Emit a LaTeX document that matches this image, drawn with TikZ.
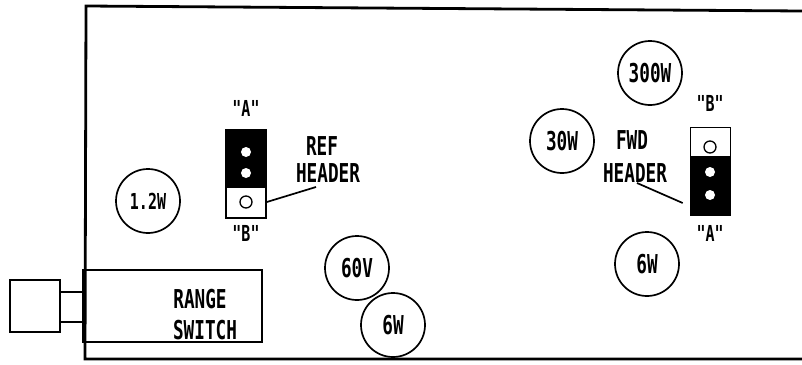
\documentclass[tikz,border=0pt]{standalone}
\usepackage{fontspec}
\newfontfamily\plotfont{DejaVu Sans Mono}[FakeStretch=0.68]
\usetikzlibrary{positioning,calc}
\tikzstyle{rating} = [draw, circle, line width=1.7pt, minimum size=64pt, inner sep=0pt, font=\plotfont\bfseries\fontsize{26}{28}\selectfont]
\tikzstyle{silk} = [inner sep=0pt, font=\plotfont\bfseries\fontsize{26}{28}\selectfont]
\tikzstyle{pinname} = [inner sep=0pt, font=\plotfont\bfseries\fontsize{22}{24}\selectfont]
\tikzstyle{header} = [draw, line width=1.7pt, minimum width=40pt, minimum height=88pt, inner sep=0pt]
\tikzstyle{pinhole} = [circle, fill=white, minimum size=10pt, inner sep=0pt]
\tikzstyle{openpin} = [circle, draw, line width=1.3pt, minimum size=12pt, inner sep=0pt]
\tikzstyle{leader} = [line width=1.7pt]

\begin{document}
\begin{tikzpicture}[x=1pt, y=-1pt]
    \useasboundingbox (0,0) rectangle (802,364);

    % Board outline
    \draw[line width=2.8pt] (802,11) -- (86,6) -- (85,359) -- (802,359);

    % Range switch
    \node[draw, line width=1.9pt, minimum width=179pt, minimum height=72pt, inner sep=0pt] (switch) at (172.5,306) {};
    \node[draw, line width=1.7pt, minimum width=50pt, minimum height=52pt, inner sep=0pt] (knob) at (35,306) {};
    \node[draw, line width=1.7pt, minimum width=23pt, minimum height=30pt, inner sep=0pt] (shaft) at (71.5,307) {};
    \node[silk] (range) at (200,299) {RANGE};
    \node[silk] (switchtext) at (205,330) {SWITCH};

    % Ratings
    \node[rating, font=\plotfont\bfseries\fontsize{22}{24}\selectfont] (r12) at (148,201) {1.2W};
    \node[rating] (r60) at (357,268) {60V};
    \node[rating] (r6a) at (393,325) {6W};
    \node[rating] (r300) at (650,73) {300W};
    \node[rating] (r30) at (562,141) {30W};
    \node[rating] (r6b) at (647,264) {6W};

    % REF header
    \node[header] (refhdr) at (246,174) {};
    \fill (refhdr.north west) rectangle ($(refhdr.east)+(0,14)$);
    \node[pinhole] (refpin1) at (246,152) {};
    \node[pinhole] (refpin2) at (246,173) {};
    \node[openpin] (refpin3) at (246,202) {};
    \node[pinname] (refa) at (246,108) {"A"};
    \node[pinname] (refb) at (246,233) {"B"};
    \node[silk] (reftext) at (322,146) {REF};
    \node[silk] (refhtext) at (328,173) {HEADER};
    \coordinate (reflead) at (316,187);
    \draw[leader] (refhdr.east |- refpin3) -- (reflead);

    % FWD header
    \node[header] (fwdhdr) at (710.5,171.5) {};
    \fill (fwdhdr.south east) rectangle ($(fwdhdr.west)+(0,-16)$);
    \node[openpin] (fwdpin1) at (710,147) {};
    \node[pinhole] (fwdpin2) at (710,172) {};
    \node[pinhole] (fwdpin3) at (710,195) {};
    \node[pinname] (fwdb) at (710,103) {"B"};
    \node[pinname] (fwda) at (710,233) {"A"};
    \node[silk] (fwdtext) at (632,140) {FWD};
    \node[silk] (fwdhtext) at (635,173) {HEADER};
    \coordinate (fwdlead) at (637,183);
    \draw[leader] (fwdlead) -- ([xshift=-7pt]fwdhdr.west |- 0,203);
\end{tikzpicture}
\end{document}
